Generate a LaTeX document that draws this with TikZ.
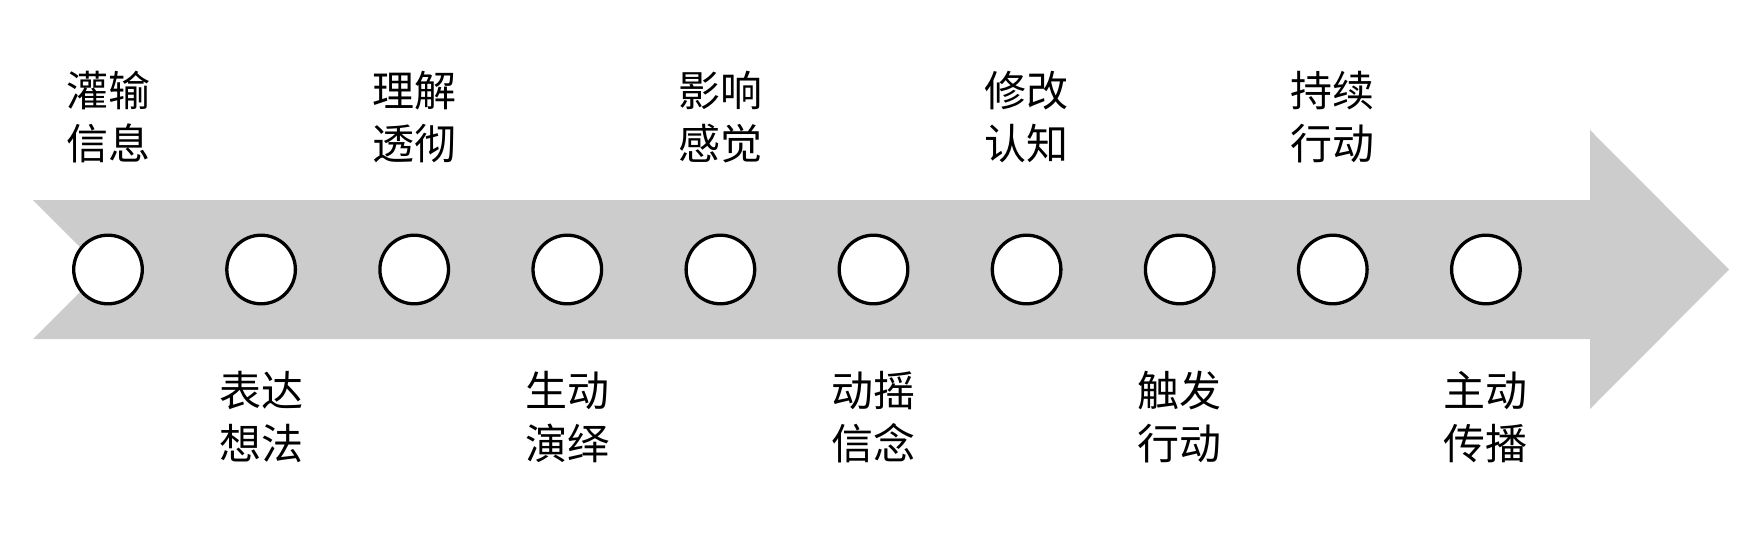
\documentclass[tikz,border=0pt]{standalone}
\usepackage{fontspec}
\setmainfont{Noto Sans CJK SC}
\definecolor{arrowgray}{RGB}{204,204,204}
\tikzset{
  circ/.style={circle, draw=black, fill=white, line width=3.3pt, minimum size=68.6pt, inner sep=0pt},
  lbl/.style={align=center, font=\fontsize{42pt}{53pt}\selectfont, inner sep=0pt, anchor=center}
}
\begin{document}
\begin{tikzpicture}[x=1pt, y=-1pt]
\useasboundingbox (0,0) rectangle (1743,536);
\fill[arrowgray] (33,200) -- (1590,200) -- (1590,130) -- (1729,269.5) -- (1590,409) -- (1590,339) -- (33,339) -- (102.5,269.5) -- cycle;
\foreach \i in {0,...,9} {
  \node[circ] (c\i) at ({108+153.1*\i},269.5) {};
}
\node[lbl] (t0) at (108,117.5) {灌输\\信息};
\node[lbl] (t2) at ({108+153.1*2},117.5) {理解\\透彻};
\node[lbl] (t4) at ({108+153.1*4},117.5) {影响\\感觉};
\node[lbl] (t6) at ({108+153.1*6},117.5) {修改\\认知};
\node[lbl] (t8) at ({108+153.1*8},117.5) {持续\\行动};
\node[lbl] (b1) at ({108+153.1*1},417.5) {表达\\想法};
\node[lbl] (b3) at ({108+153.1*3},417.5) {生动\\演绎};
\node[lbl] (b5) at ({108+153.1*5},417.5) {动摇\\信念};
\node[lbl] (b7) at ({108+153.1*7},417.5) {触发\\行动};
\node[lbl] (b9) at ({108+153.1*9},417.5) {主动\\传播};
\end{tikzpicture}
\end{document}
